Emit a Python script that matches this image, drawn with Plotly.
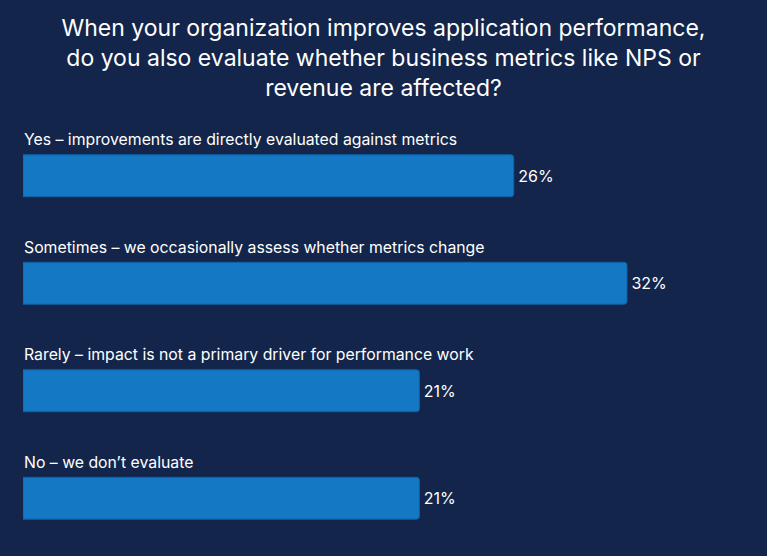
import plotly.graph_objects as go

# survey answers, top to bottom
answers = [
    "Yes – improvements are directly evaluated against metrics",
    "Sometimes – we occasionally assess whether metrics change",
    "Rarely – impact is not a primary driver for performance work",
    "No – we don’t evaluate",
]
shares = [26, 32, 21, 21]
share_labels = [f"\u200a{v}%" for v in shares]

BG = "#13254a"
BAR = "#1478c4"
FONT = "Inter, Roboto, Arial, sans-serif"

rows = list(range(len(answers)))

fig = go.Figure(go.Bar(
    x=shares, y=rows, orientation="h",
    width=0.39,
    marker=dict(color=BAR, line=dict(color="#0f62a8", width=1), cornerradius=3),
    text=share_labels, textposition="outside",
    textfont=dict(color="white", size=16, family=FONT),
    cliponaxis=False, hoverinfo="skip",
))

for r, a in zip(rows, answers):
    fig.add_annotation(
        x=0, y=r, xref="x", yref="y", text=a, showarrow=False,
        xanchor="left", yanchor="middle", yshift=36, xshift=-1,
        font=dict(color="white", size=15.8, family=FONT),
    )

fig.update_layout(
    width=767, height=556,
    paper_bgcolor=BG, plot_bgcolor=BG,
    margin=dict(l=23, r=24, t=122, b=4),
    showlegend=False,
    title=dict(
        text="When your organization improves application performance,<br>"
             "do you also evaluate whether business metrics like NPS or<br>"
             "revenue are affected?",
        x=0.5, xanchor="center", y=0.935, yanchor="top",
        font=dict(color="white", size=23, family=FONT),
    ),
    xaxis=dict(range=[0, 720 / 18.875], visible=False, fixedrange=True),
    yaxis=dict(range=[3.5, -0.5], visible=False, fixedrange=True),
)

fig.write_html(
    "out.html",
    config={"displayModeBar": False},
    post_script="document.body.style.margin='0';document.body.style.background='#13254a';",
)
